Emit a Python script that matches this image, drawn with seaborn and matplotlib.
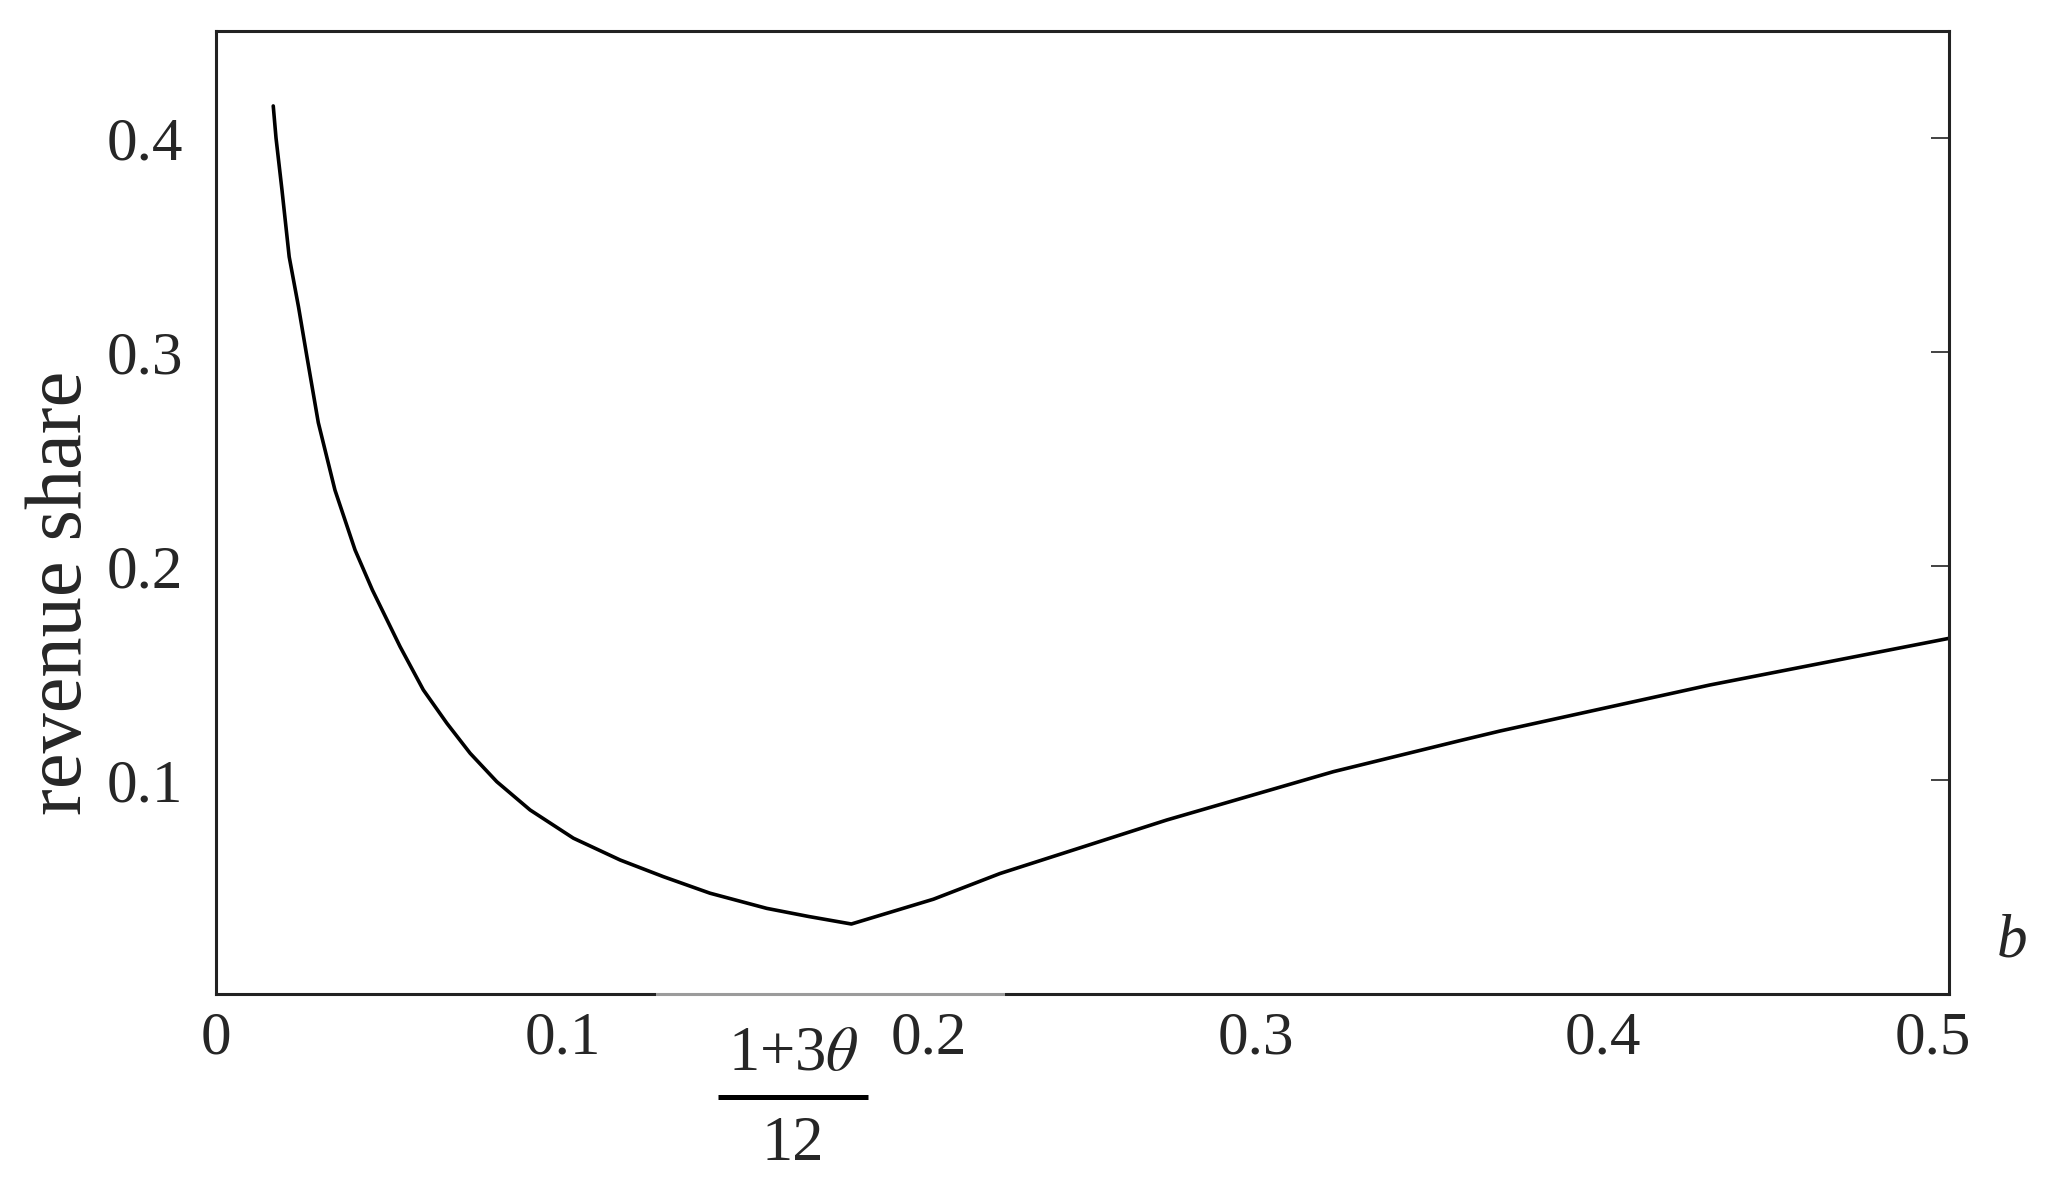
import matplotlib
matplotlib.use("Agg")
import matplotlib.pyplot as plt
import matplotlib.transforms as mtransforms
from matplotlib.patches import Rectangle
import numpy as np
import pandas as pd
import seaborn as sns

# values
b_vals = [0.0165, 0.0173, 0.0190, 0.0211, 0.0238, 0.0262, 0.0295, 0.0343, 0.0401,
          0.0451, 0.0531, 0.0598, 0.0666, 0.0733, 0.0810, 0.0906, 0.1031, 0.1166,
          0.1291, 0.1425, 0.1589, 0.1710, 0.1833,
          0.2070, 0.2262, 0.2743, 0.3224, 0.3589, 0.3705, 0.4310, 0.5000]
share_vals = [0.415, 0.400, 0.376, 0.3445, 0.321, 0.298, 0.267, 0.2355, 0.2075,
              0.1888, 0.1623, 0.1421, 0.1265, 0.1125, 0.0992, 0.0860, 0.0728, 0.0626,
              0.0548, 0.0471, 0.0400, 0.0362, 0.0327,
              0.0443, 0.0563, 0.0813, 0.1039, 0.1184, 0.1229, 0.1444, 0.1662]
x_ticks = [0, 0.1, 0.2, 0.3, 0.4, 0.5]
x_ticklabels = ['0', '0.1', '0.2', '0.3', '0.4', '0.5']
y_ticks = [0.1, 0.2, 0.3, 0.4]
y_ticklabels = ['0.1', '0.2', '0.3', '0.4']
kink_label_x = 0.1665   # where the (1+3θ)/12 label sits

df = pd.DataFrame({'b': b_vals, 'share': share_vals})

sns.set_theme(style='white')
plt.rcParams['font.family'] = ['Liberation Serif', 'DejaVu Serif']
plt.rcParams['mathtext.fontset'] = 'stix'

fig, ax = plt.subplots(figsize=(20.46, 11.99), dpi=100)
fig.subplots_adjust(left=0.1056, right=0.9526, bottom=0.171, top=0.9741)

sns.lineplot(data=df, x='b', y='share', sort=False, estimator=None,
             color='black', linewidth=2.6, ax=ax)

ax.set_xlim(0, 0.5)
ax.set_ylim(0, 0.45)
ax.set_xticks(x_ticks)
ax.set_xticklabels(x_ticklabels)
ax.set_yticks(y_ticks)
ax.set_yticklabels(y_ticklabels)
ax.tick_params(direction='in', length=13, width=1.2, color='#222222',
               labelsize=44, top=False, right=True, pad=12)
ax.tick_params(axis='y', pad=24)
for s in ax.spines.values():
    s.set_color('#222222')
    s.set_linewidth(2.2)

# nudge a couple of x labels like in the original
labs = ax.get_xticklabels()
labs[2].set_transform(labs[2].get_transform() + mtransforms.ScaledTranslation(0.2, 0, fig.dpi_scale_trans))
labs[5].set_transform(labs[5].get_transform() + mtransforms.ScaledTranslation(-0.16, 0, fig.dpi_scale_trans))

ax.set_xlabel('')
ax.set_ylabel('revenue share', fontsize=58)
ax.yaxis.set_label_coords(-0.068, 0.417)

# italic b at the right end of the x axis
ax.text(1.0364, 0.054, 'b', transform=ax.transAxes, fontsize=44,
        style='italic', ha='center', va='center')

# greyed-out stretch of the bottom frame
trans = mtransforms.blended_transform_factory(ax.transData, ax.transAxes)
ax.add_patch(Rectangle((0.127, -0.007), 0.2276 - 0.127, 0.027, transform=trans,
                       facecolor='white', alpha=0.55, edgecolor='none',
                       clip_on=False, zorder=10))

# fraction label (1+3θ)/12 under the kink
ax.text(kink_label_x, -0.063, r'1+3$\theta$', transform=trans, fontsize=45,
        ha='center', va='center')
ax.plot([0.1448, 0.1881], [-0.107, -0.107], transform=trans, color='black',
        linewidth=3.6, clip_on=False, solid_capstyle='butt')
ax.text(kink_label_x, -0.157, '12', transform=trans, fontsize=45,
        ha='center', va='center')

fig.savefig('out.png', dpi=100)
